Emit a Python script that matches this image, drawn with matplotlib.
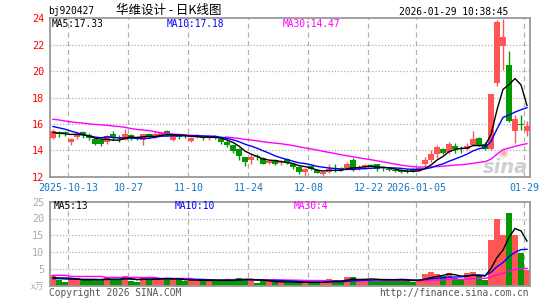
import matplotlib
matplotlib.use('Agg')
import matplotlib.pyplot as plt
import numpy as np

# ---------------- data ----------------
tick_idx = [3, 13, 23, 33, 43, 53, 61, 79]
tick_labels = ['2025-10-13', '10-27', '11-10', '11-24', '12-08', '12-22', '2026-01-05', '01-29']

opens = [14.95, 15.35, 15.40, 14.60, 15.00, 15.40, 15.15, 14.85, 14.75, 14.65,
         15.25, 14.95, 14.80, 15.15, 14.92, 14.80, 15.25, 15.00, 15.15, 15.50,
         14.80, 15.10, 15.12, 14.70, 14.98, 14.98, 14.90, 15.08, 14.85, 14.64,
         14.38, 14.08, 13.46, 13.28, 13.55, 13.38, 13.05, 13.26, 13.02, 13.35,
         13.00, 12.72, 12.35, 12.80, 12.50, 12.24, 12.35, 12.68, 12.65, 12.65,
         13.30, 12.60, 12.70, 12.88, 12.95, 12.62, 12.52, 12.48, 12.50, 12.45,
         12.60, 12.46, 12.96, 13.27, 13.70, 14.08, 13.90, 14.33, 14.20, 14.10,
         14.40, 14.96, 14.45, 14.08, 19.10, 21.90, 20.50, 15.50, 16.00, 15.47]
closes = [15.45, 15.25, 15.30, 14.85, 15.20, 15.20, 14.90, 14.50, 14.45, 15.10,
          14.90, 14.90, 15.25, 14.90, 14.87, 15.20, 15.05, 15.20, 15.30, 15.20,
          15.10, 15.02, 15.05, 14.90, 15.10, 14.90, 15.00, 15.03, 14.60, 14.38,
          13.97, 13.60, 13.13, 13.50, 13.48, 13.00, 13.18, 12.95, 13.15, 13.05,
          12.70, 12.33, 12.60, 12.60, 12.30, 12.32, 12.58, 12.60, 12.58, 12.95,
          12.60, 12.75, 12.85, 12.82, 12.62, 12.55, 12.48, 12.40, 12.35, 12.35,
          12.45, 12.66, 13.27, 13.70, 14.22, 13.82, 14.48, 14.10, 14.10, 14.30,
          14.86, 14.40, 14.10, 18.28, 23.70, 22.60, 16.20, 16.40, 15.90, 15.85]
highs = [15.60, 15.50, 15.50, 14.95, 15.30, 15.45, 15.30, 14.90, 14.85, 15.15,
         15.50, 15.15, 15.60, 15.20, 15.05, 15.25, 15.30, 15.50, 15.40, 15.55,
         15.20, 15.25, 15.25, 15.00, 15.20, 15.10, 15.05, 15.15, 14.90, 14.75,
         14.40, 14.15, 13.50, 13.70, 13.70, 13.50, 13.25, 13.35, 13.30, 13.45,
         13.05, 12.80, 12.65, 12.85, 12.55, 12.43, 12.95, 13.00, 12.75, 13.10,
         13.40, 12.85, 12.95, 13.00, 13.00, 12.75, 12.60, 12.55, 12.55, 12.55,
         12.65, 12.75, 13.52, 14.00, 14.40, 14.20, 14.65, 14.55, 14.30, 14.55,
         15.50, 14.98, 14.60, 18.30, 23.87, 23.95, 21.50, 16.67, 16.67, 16.20]
lows = [14.87, 15.00, 15.05, 14.40, 14.85, 14.90, 14.80, 14.40, 14.35, 14.50,
        14.75, 14.60, 14.75, 14.75, 14.75, 14.40, 14.95, 14.95, 15.05, 15.05,
        14.70, 14.85, 14.95, 14.65, 14.90, 14.75, 14.80, 14.85, 14.45, 14.25,
        13.80, 13.30, 12.80, 13.00, 13.30, 12.95, 12.95, 12.85, 12.90, 12.95,
        12.60, 12.20, 12.03, 12.50, 12.25, 12.00, 12.30, 12.35, 12.45, 12.50,
        12.45, 12.50, 12.60, 12.70, 12.45, 12.40, 12.40, 12.35, 12.28, 12.30,
        12.35, 12.40, 12.63, 13.15, 13.45, 13.70, 13.75, 13.80, 13.80, 14.00,
        14.35, 14.35, 14.05, 14.05, 18.90, 20.08, 16.12, 14.53, 15.54, 15.10]
volumes = [3.1, 1.7, 1.1, 2.0, 2.3, 1.7, 1.7, 1.7, 1.7, 2.5,
           2.0, 1.7, 2.8, 1.4, 1.2, 2.3, 2.1, 2.3, 2.3, 1.9,
           1.9, 1.7, 1.3, 1.7, 1.7, 1.6, 1.5, 1.5, 1.6, 1.7,
           1.7, 2.3, 2.1, 1.7, 0.9, 1.3, 1.3, 1.0, 1.2, 1.0,
           1.0, 1.0, 1.0, 1.0, 1.0, 1.0, 2.0, 1.7, 1.0, 2.5,
           2.5, 1.7, 1.7, 1.7, 2.0, 1.7, 1.7, 1.7, 1.7, 1.7,
           1.2, 1.7, 3.4, 4.0, 3.4, 2.9, 3.7, 2.3, 2.0, 3.7,
           4.0, 2.9, 1.7, 13.5, 19.8, 15.2, 21.7, 15.0, 9.8, 4.7]

# moving-average values before a full window is visible
ma5_head = [15.35, 15.30, 15.25, 15.20]
ma10_head = [15.80, 15.70, 15.60, 15.45, 15.33, 15.20, 15.10, 15.00, 14.95]
ma30_head = [16.35, 16.30, 16.22, 16.15, 16.10, 16.06, 16.00, 15.96, 15.93, 15.90,
             15.84, 15.80, 15.74, 15.65, 15.58, 15.54, 15.49, 15.41, 15.33, 15.28,
             15.23, 15.20, 15.18, 15.14, 15.12, 15.06, 15.04, 14.98, 14.94]
vma5_head = [2.4, 2.3, 2.3, 2.2]
vma10_head = [2.1, 2.1, 2.0, 1.9, 1.9, 1.9, 1.9, 1.8, 1.8]
vma30_head = [3.1, 3.1, 3.1, 2.75, 2.75, 2.75, 2.75, 2.75, 2.75, 2.45,
              2.45, 2.45, 2.45, 2.45, 2.45, 2.45, 2.45, 2.45, 2.15, 2.15,
              2.15, 2.15, 2.15, 2.15, 1.67, 1.67, 1.67, 1.67, 1.67]

ma_labels = ['MA5:17.33', 'MA10:17.18', 'MA30:14.47']
vma_labels = ['MA5:13', 'MA10:10', 'MA30:4']
price_ticks = [12, 14, 16, 18, 20, 22, 24]
vol_ticks = [5, 10, 15, 20, 25]


def moving(vals, n, head):
    vals = np.asarray(vals, dtype=float)
    out = list(head)
    for i in range(n - 1, len(vals)):
        out.append(vals[i - n + 1:i + 1].mean())
    return np.array(out)


# ---------------- drawing ----------------
W, H = 545, 300
fig = plt.figure(figsize=(W / 100, H / 100), dpi=100)
fig.patch.set_facecolor('white')

mono = 'DejaVu Sans Mono'
RED = '#ff5555'
GREEN = '#009a00'
GRID = '#b0b0b0'
FRAME = '#999999'
BLUE_T = '#1478c8'
FS = 6.9

L, R = 50, 530
ax1 = fig.add_axes([L / W, 1 - 176.7 / H, (R - L) / W, (176.7 - 18.3) / H])
ax2 = fig.add_axes([L / W, 1 - 285.7 / H, (R - L) / W, (285.7 - 201.7) / H])

n = len(closes)
x = np.arange(n)
o = np.array(opens); c = np.array(closes); hi = np.array(highs); lo = np.array(lows)
up = c >= o
cols = np.where(up, RED, GREEN)

for ax in (ax1, ax2):
    ax.set_xlim(-0.5, n - 0.5)
    for s in ax.spines.values():
        s.set_color(FRAME)
        s.set_linewidth(1.3)
    ax.tick_params(length=0)
    for t in tick_idx:
        ax.axvline(t - 0.45, color=GRID, lw=0.9, ls=(0, (4, 3)), zorder=0)

# price panel
ax1.set_ylim(12, 24)
for yv in price_ticks[1:-1]:
    ax1.axhline(yv, color=GRID, lw=0.9, ls=(0, (1, 1.5)), zorder=0)
ax1.vlines(x, lo, hi, colors=cols, lw=1.0, zorder=2)
body_h = np.maximum(np.abs(c - o), 0.07)
ax1.bar(x, body_h, bottom=np.minimum(o, c), width=0.86, color=cols, zorder=3, linewidth=0)

ma5 = moving(closes, 5, ma5_head)
ma10 = moving(closes, 10, ma10_head)
ma30 = moving(closes, 30, ma30_head)
ax1.plot(x, ma30, color='#ff00ff', lw=1.0, zorder=4)
ax1.plot(x, ma10, color='#0000ff', lw=1.0, zorder=4)
ax1.plot(x, ma5, color='black', lw=1.0, zorder=5)

ax1.set_yticks(price_ticks)
ax1.set_yticklabels([str(v) for v in price_ticks], color='#ff0000', fontsize=7.3, family=mono)
ax1.tick_params(axis='y', pad=4)
ax1.set_xticks([t - 0.45 for t in tick_idx])
ax1.set_xticklabels(tick_labels, color=BLUE_T, fontsize=7.2, family=mono)
ax1.tick_params(axis='x', pad=4.5)

# sina watermark
ax1.text(0.995, 0.0, 'sina', transform=ax1.transAxes, ha='right', va='bottom',
         fontsize=14, fontweight='bold', style='italic', color='#cfcfcf', zorder=1)
ax1.text(0.945, 0.115, '◉', transform=ax1.transAxes, ha='center', va='bottom',
         fontsize=8, color='#f0b0b0', zorder=1)

# volume panel
ax2.set_ylim(0, 25)
for yv in vol_ticks[:-1]:
    ax2.axhline(yv, color=GRID, lw=0.9, ls=(0, (1, 1.5)), zorder=0)
ax2.bar(x, volumes, width=0.88, color=cols, linewidth=0, zorder=2)
vma5 = moving(volumes, 5, vma5_head)
vma10 = moving(volumes, 10, vma10_head)
vma30 = moving(volumes, 30, vma30_head)
ax2.plot(x, vma30, color='#ff00ff', lw=1.0, zorder=4)
ax2.plot(x, vma10, color='#0000ff', lw=1.0, zorder=4)
ax2.plot(x, vma5, color='black', lw=1.0, zorder=5)
ax2.set_yticks(vol_ticks)
ax2.set_yticklabels([str(v) for v in vol_ticks], color='#aaaaaa', fontsize=7.3, family=mono)
ax2.tick_params(axis='y', pad=4)
ax2.set_xticks([])


def ftext(px, py, s, **kw):
    fig.text(px / W, 1 - py / H, s, **kw)


ftext(48, 11, 'bj920427', fontsize=FS, family=mono, va='center', ha='left')
ftext(116, 10, '华维设计 - 日K线图', fontsize=9,
      family=['Noto Sans CJK SC', 'DejaVu Sans'], va='center', ha='left')
ftext(508, 12, '2026-01-29 10:38:45', fontsize=FS, family=mono, va='center', ha='right')

ftext(52, 24, ma_labels[0], fontsize=FS, family=mono, va='center', color='black')
ftext(167, 24, ma_labels[1], fontsize=FS, family=mono, va='center', color='#0000ff')
ftext(283, 24, ma_labels[2], fontsize=FS, family=mono, va='center', color='#ff00ff')

ftext(54, 206, vma_labels[0], fontsize=FS, family=mono, va='center', color='black')
ftext(175, 206, vma_labels[1], fontsize=FS, family=mono, va='center', color='#0000ff')
ftext(294, 206, vma_labels[2], fontsize=FS, family=mono, va='center', color='#ff00ff')

ftext(44, 287, 'x万', fontsize=6.5, family=['Noto Sans CJK SC', 'DejaVu Sans'],
      va='center', ha='right', color='#aaaaaa')
ftext(49, 293, 'Copyright 2026 SINA.COM', fontsize=FS, family=mono, va='center',
      ha='left', color='#555555')
ftext(529, 293, 'http://finance.sina.com.cn', fontsize=FS, family=mono, va='center',
      ha='right', color='#555555')

fig.savefig('out.png', dpi=100)
